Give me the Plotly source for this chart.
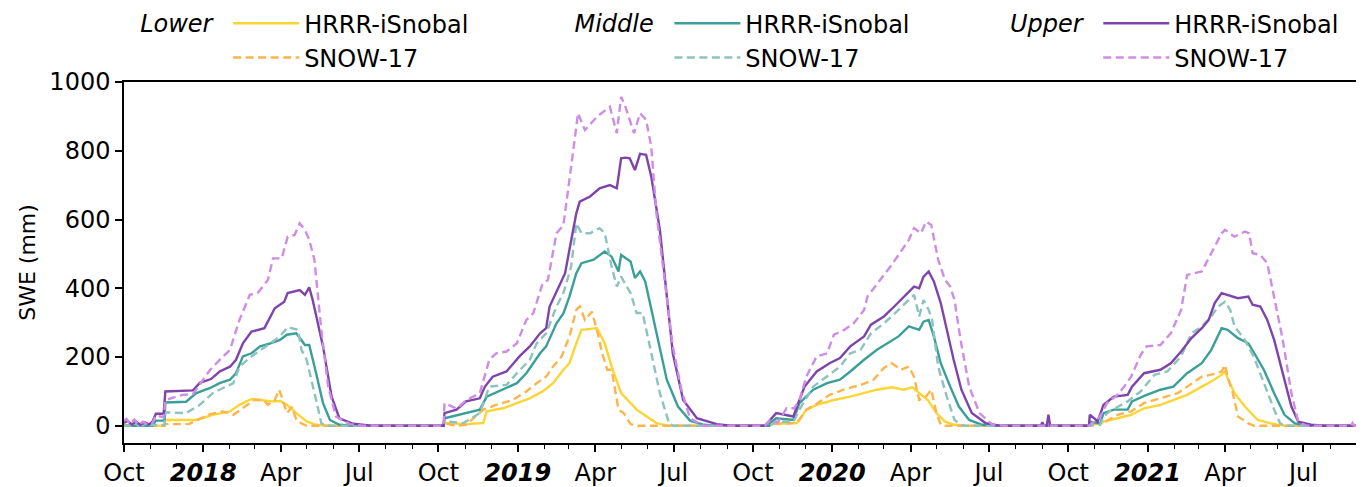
import plotly.graph_objects as go

# ---------------- data ----------------
lower_hrrr_dates = ["2017-10-01","2017-11-17","2017-11-18","2017-12-24","2018-01-12","2018-02-01","2018-02-12","2018-02-26","2018-03-08","2018-03-23","2018-03-31","2018-04-08","2018-04-19","2018-05-01","2018-05-12","2018-05-25",
    "2018-10-07","2018-10-08","2018-11-02","2018-11-22","2018-11-26","2018-12-15","2018-12-31","2019-01-15","2019-01-30","2019-02-11","2019-02-23","2019-03-02","2019-03-10","2019-03-16","2019-04-03","2019-04-06","2019-04-12","2019-04-20","2019-05-01","2019-05-19","2019-06-11","2019-06-25",
    "2019-10-20","2019-10-21","2019-11-21","2019-11-24","2019-12-02","2019-12-14","2020-01-03","2020-01-22","2020-02-07","2020-02-22","2020-03-10","2020-03-24","2020-04-03","2020-04-11","2020-04-21","2020-05-01","2020-05-11","2020-05-22","2020-06-05",
    "2020-10-25","2020-10-26","2020-11-07","2020-11-11","2020-11-27","2020-12-13","2020-12-28","2021-01-16","2021-01-31","2021-02-16","2021-03-05","2021-03-16","2021-03-28","2021-04-01","2021-04-04","2021-04-12","2021-04-24","2021-05-09","2021-05-24","2021-06-10","2021-08-31"]
lower_hrrr_swe = [0,0,17,17,32,42,61,78,75,71,72,61,37,13,3,0,
    0,8,5,8,42,51,66,80,100,124,163,182,240,279,284,269,240,172,95,47,8,0,
    0,5,8,17,47,61,75,85,95,105,112,105,112,95,75,37,12,3,0,
    0,5,5,12,22,32,51,61,75,90,114,129,148,158,138,95,56,17,7,0,0]

lower_snow17_dates = ["2017-10-01","2017-11-17","2017-11-18","2017-12-15","2018-01-09","2018-01-24","2018-02-05","2018-02-16","2018-03-01","2018-03-12","2018-03-17","2018-03-25","2018-03-30","2018-04-02","2018-04-08","2018-04-14","2018-04-19","2018-04-25","2018-05-01",
    "2018-10-07","2018-10-08","2018-10-20","2018-11-02","2018-11-22","2018-12-07","2018-12-26","2019-01-11","2019-01-23","2019-02-03","2019-02-11","2019-02-21","2019-03-02","2019-03-10","2019-03-14","2019-03-20","2019-03-28","2019-04-03","2019-04-09","2019-04-15","2019-04-20","2019-04-28","2019-05-04","2019-05-12","2019-05-18",
    "2019-10-20","2019-10-21","2019-11-21","2019-12-02","2019-12-14","2019-12-29","2020-01-14","2020-02-03","2020-02-18","2020-03-01","2020-03-10","2020-03-21","2020-03-30","2020-04-05","2020-04-11","2020-04-19","2020-04-25","2020-05-01","2020-05-06","2020-05-12",
    "2020-10-25","2020-10-26","2020-11-11","2020-11-15","2020-11-27","2020-12-13","2020-12-28","2021-01-16","2021-02-05","2021-02-16","2021-03-05","2021-03-20","2021-03-28","2021-04-01","2021-04-04","2021-04-10","2021-04-16","2021-04-28","2021-05-05","2021-08-31"]
lower_snow17_swe = [0,0,5,5,34,42,32,51,75,75,61,75,105,85,37,55,17,7,0,
    0,8,0,3,47,61,75,100,124,143,172,202,260,337,347,308,332,279,211,163,163,47,37,5,0,
    0,5,8,47,64,90,105,119,134,168,182,163,172,143,75,85,105,37,3,0,
    0,5,8,15,32,42,66,80,95,114,143,151,158,177,143,95,27,7,0,0]

middle_hrrr_dates = ["2017-10-01","2017-11-03","2017-11-07","2017-11-17","2017-11-18","2017-12-12","2017-12-24","2018-01-09","2018-01-20","2018-02-01","2018-02-08","2018-02-16","2018-02-26","2018-03-08","2018-03-20","2018-03-31","2018-04-08","2018-04-19","2018-04-29","2018-05-04","2018-05-12","2018-05-20","2018-05-28","2018-06-08","2018-06-25",
    "2018-10-07","2018-10-08","2018-11-02","2018-11-18","2018-11-26","2018-12-15","2018-12-31","2019-01-11","2019-01-27","2019-02-03","2019-02-15","2019-02-23","2019-03-02","2019-03-10","2019-03-16","2019-03-30","2019-04-12","2019-04-20","2019-04-28","2019-05-01","2019-05-12","2019-05-17","2019-05-23","2019-05-29","2019-06-06","2019-06-15","2019-06-23","2019-07-06","2019-07-20","2019-08-05","2019-08-20",
    "2019-10-20","2019-10-21","2019-10-28","2019-11-17","2019-11-24","2019-12-10","2019-12-26","2020-01-10","2020-01-22","2020-02-07","2020-02-22","2020-03-06","2020-03-18","2020-03-30","2020-04-11","2020-04-16","2020-04-22","2020-04-28","2020-05-06","2020-05-17","2020-05-27","2020-06-08","2020-06-23","2020-07-10",
    "2020-10-25","2020-10-26","2020-11-07","2020-11-11","2020-11-23","2020-12-09","2020-12-14","2020-12-31","2021-01-16","2021-01-31","2021-02-16","2021-03-05","2021-03-16","2021-03-28","2021-04-04","2021-04-16","2021-04-28","2021-05-05","2021-05-16","2021-05-28","2021-06-09","2021-06-21","2021-07-05","2021-08-31"]
middle_hrrr_swe = [0,0,15,15,68,70,95,110,124,134,153,202,211,231,240,250,265,269,235,235,153,66,17,3,0,
    0,22,37,47,85,105,124,153,211,231,298,327,376,444,473,483,507,492,449,497,478,430,449,420,328,231,134,56,15,3,0,
    0,8,22,17,66,105,124,134,158,192,221,240,260,289,279,303,308,260,182,114,56,17,3,0,
    0,12,7,37,47,47,71,90,105,114,153,182,221,284,279,255,240,211,163,95,32,7,0,0]

middle_snow17_dates = ["2017-10-01","2017-11-17","2017-11-18","2017-12-12","2017-12-28","2018-01-12","2018-01-24","2018-02-05","2018-02-12","2018-02-26","2018-03-20","2018-03-31","2018-04-09","2018-04-21","2018-04-25","2018-05-01","2018-05-12","2018-05-18","2018-05-22",
    "2018-10-07","2018-10-08","2018-10-30","2018-11-18","2018-11-29","2018-12-19","2018-12-31","2019-01-15","2019-01-23","2019-02-03","2019-02-15","2019-02-23","2019-03-04","2019-03-10","2019-03-16","2019-03-26","2019-04-06","2019-04-12","2019-04-20","2019-04-26","2019-05-01","2019-05-12","2019-05-19","2019-05-26","2019-06-03","2019-06-15","2019-06-26","2019-07-01",
    "2019-10-20","2019-10-28","2019-11-17","2019-11-24","2019-12-10","2019-12-26","2020-01-10","2020-01-22","2020-02-03","2020-02-15","2020-03-01","2020-03-18","2020-03-30","2020-04-05","2020-04-11","2020-04-16","2020-04-22","2020-04-26","2020-05-03","2020-05-13","2020-05-22","2020-05-29","2020-06-05",
    "2020-10-25","2020-11-07","2020-11-11","2020-11-18","2020-12-09","2020-12-24","2021-01-09","2021-01-24","2021-02-09","2021-02-21","2021-03-05","2021-03-16","2021-03-24","2021-04-01","2021-04-07","2021-04-12","2021-04-24","2021-05-05","2021-05-16","2021-05-28","2021-06-04","2021-06-10","2021-08-31"]
middle_snow17_swe = [0,3,39,37,61,95,110,124,172,202,240,260,287,279,221,192,75,8,0,
    0,13,8,37,114,119,153,192,240,269,347,386,463,589,560,560,575,560,463,405,434,386,328,328,231,95,5,0,
    0,12,12,47,114,143,172,211,221,269,298,337,366,381,318,366,337,308,172,85,17,3,0,
    0,3,27,42,71,100,148,158,202,269,289,318,347,361,337,289,250,197,124,47,7,0,0]

upper_hrrr_dates = ["2017-10-01","2017-10-05","2017-10-10","2017-10-15","2017-10-20","2017-10-25","2017-10-30","2017-11-03","2017-11-07","2017-11-16","2017-11-18","2017-12-20","2017-12-28","2018-01-10","2018-01-20","2018-02-01","2018-02-08","2018-02-16","2018-02-26","2018-03-13","2018-03-25","2018-04-05","2018-04-09","2018-04-23","2018-04-29","2018-05-04","2018-05-08","2018-05-20","2018-05-30","2018-06-08","2018-06-24","2018-07-15",
    "2018-10-07","2018-10-08","2018-10-22","2018-11-02","2018-11-18","2018-11-24","2018-12-03","2018-12-19","2019-01-03","2019-01-15","2019-01-27","2019-02-03","2019-02-07","2019-02-17","2019-02-25","2019-03-02","2019-03-10","2019-03-14","2019-03-26","2019-04-06","2019-04-18","2019-04-26","2019-05-01","2019-05-06","2019-05-11","2019-05-17","2019-05-23","2019-05-30","2019-06-05","2019-06-15","2019-06-23","2019-06-30","2019-07-12","2019-07-28","2019-08-20","2019-09-05",
    "2019-10-15","2019-10-21","2019-10-28","2019-11-17","2019-11-21","2019-11-30","2019-12-14","2019-12-29","2020-01-10","2020-01-22","2020-02-07","2020-02-15","2020-03-01","2020-03-13","2020-03-24","2020-04-05","2020-04-11","2020-04-16","2020-04-22","2020-04-28","2020-05-06","2020-05-14","2020-05-21","2020-05-30","2020-06-11","2020-06-27","2020-07-15","2020-08-30","2020-09-01","2020-09-03","2020-09-06","2020-09-08","2020-09-10",
    "2020-10-25","2020-10-26","2020-11-01","2020-11-04","2020-11-11","2020-11-23","2020-12-09","2020-12-14","2020-12-28","2021-01-16","2021-01-28","2021-02-09","2021-02-21","2021-03-05","2021-03-13","2021-03-20","2021-03-28","2021-04-04","2021-04-16","2021-04-28","2021-05-03","2021-05-12","2021-05-20","2021-05-28","2021-06-07","2021-06-17","2021-06-25","2021-07-10","2021-07-25","2021-08-31"]
upper_hrrr_swe = [8,15,4,12,3,10,4,12,35,35,100,103,125,136,158,172,192,240,274,284,342,361,386,395,381,403,366,231,85,22,6,0,
    0,37,47,71,80,114,143,158,202,231,269,284,347,400,444,512,618,652,667,691,700,691,778,780,778,744,791,788,725,570,376,211,75,22,5,0,
    0,17,37,27,56,114,158,182,197,231,260,294,318,347,376,405,400,434,449,420,357,269,192,105,37,8,0,0,10,0,0,32,0,
    0,32,20,12,61,85,90,114,153,163,182,216,255,284,308,357,386,381,371,376,352,347,308,250,153,56,12,3,0,0]

upper_snow17_dates = ["2017-10-01","2017-10-04","2017-10-08","2017-10-13","2017-10-18","2017-10-23","2017-10-28","2017-11-03","2017-11-07","2017-11-16","2017-11-18","2017-12-08","2017-12-20","2018-01-01","2018-01-09","2018-01-20","2018-02-01","2018-02-12","2018-02-24","2018-03-05","2018-03-17","2018-03-23","2018-04-02","2018-04-09","2018-04-17","2018-04-23","2018-04-29","2018-05-04","2018-05-10","2018-05-18","2018-05-26","2018-06-04","2018-06-20","2018-07-05",
    "2018-10-07","2018-10-08","2018-10-12","2018-10-22","2018-11-02","2018-11-18","2018-11-29","2018-12-07","2018-12-19","2018-12-31","2019-01-11","2019-01-19","2019-01-30","2019-02-05","2019-02-15","2019-02-23","2019-03-02","2019-03-10","2019-03-12","2019-03-20","2019-04-03","2019-04-18","2019-04-26","2019-05-01","2019-05-06","2019-05-16","2019-05-23","2019-05-30","2019-06-05","2019-06-11","2019-06-21","2019-06-30","2019-07-10","2019-07-20","2019-08-05",
    "2019-10-15","2019-10-21","2019-10-30","2019-11-09","2019-11-18","2019-11-24","2019-12-02","2019-12-14","2019-12-26","2020-01-03","2020-01-15","2020-01-26","2020-02-07","2020-02-11","2020-02-26","2020-03-10","2020-03-18","2020-03-30","2020-04-05","2020-04-13","2020-04-19","2020-04-25","2020-05-03","2020-05-11","2020-05-17","2020-05-22","2020-05-29","2020-06-08","2020-06-20","2020-07-05","2020-07-20",
    "2020-10-25","2020-11-07","2020-11-15","2020-11-27","2020-12-05","2020-12-13","2020-12-24","2020-12-31","2021-01-16","2021-01-28","2021-02-09","2021-02-16","2021-03-05","2021-03-16","2021-03-28","2021-04-01","2021-04-12","2021-04-24","2021-04-29","2021-05-03","2021-05-12","2021-05-20","2021-05-28","2021-06-07","2021-06-17","2021-06-25","2021-07-05","2021-08-25","2021-08-27","2021-08-29","2021-08-31"]
upper_snow17_swe = [15,20,5,18,2,12,3,8,30,25,75,90,92,134,163,192,221,308,381,386,424,487,487,550,555,589,570,541,483,279,114,27,5,0,
    0,66,62,50,74,95,192,211,216,240,308,327,415,424,560,584,715,870,909,860,899,928,851,957,928,851,909,890,812,618,405,231,105,22,0,
    0,17,10,51,51,75,143,202,211,265,279,298,337,376,424,468,497,541,575,560,594,584,483,424,405,366,250,114,37,3,0,
    0,27,66,90,114,143,206,231,235,269,337,439,449,502,560,570,550,565,560,502,497,473,376,250,95,12,0,0,8,0,0]

tick_dates = ["2017-10-01","2018-01-01","2018-04-01","2018-07-01","2018-10-01","2019-01-01","2019-04-01","2019-07-01",
              "2019-10-01","2020-01-01","2020-04-01","2020-07-01","2020-10-01","2021-01-01","2021-04-01","2021-07-01"]
tick_labels = ["Oct","<b><i>2018</i></b>","Apr","Jul","Oct","<b><i>2019</i></b>","Apr","Jul",
               "Oct","<b><i>2020</i></b>","Apr","Jul","Oct","<b><i>2021</i></b>","Apr","Jul"]

# ---------------- figure ----------------
FONT = "DejaVu Sans"
FS = 24
fig = go.Figure()

series = [
    (lower_hrrr_dates, lower_hrrr_swe, "HRRR-iSnobal", "#FCD535", "solid", "legend"),
    (lower_snow17_dates, lower_snow17_swe, "SNOW-17", "#FDB44B", "8px,4.5px", "legend"),
    (middle_hrrr_dates, middle_hrrr_swe, "HRRR-iSnobal", "#3A9F99", "solid", "legend2"),
    (middle_snow17_dates, middle_snow17_swe, "SNOW-17", "#8CC3BE", "8px,4.5px", "legend2"),
    (upper_hrrr_dates, upper_hrrr_swe, "HRRR-iSnobal", "#7E44AC", "solid", "legend3"),
    (upper_snow17_dates, upper_snow17_swe, "SNOW-17", "#CF8CE6", "8px,4.5px", "legend3"),
]
for i, (d, v, name, col, dash, leg) in enumerate(series):
    fig.add_trace(go.Scatter(x=d, y=v, mode="lines", name=name, legend=leg,
                             legendgroup="g%d" % i,
                             line=dict(color=col, width=2.4, dash=dash)))

def legend_cfg(title, x):
    return dict(title=dict(text="<i>" + title + "</i>&nbsp;", side="left",
                           font=dict(family=FONT, size=FS, color="black")),
                x=x, xanchor="left", y=1.224, yanchor="top",
                orientation="v", traceorder="normal", tracegroupgap=4,
                itemwidth=66,
                font=dict(family=FONT, size=FS, color="black"),
                bgcolor="rgba(0,0,0,0)", borderwidth=0)

# the page body adds an 8px offset, so the figure is 8px smaller than the window
fig.update_layout(
    width=1356, height=479,
    margin=dict(l=116, r=8, t=74, b=44, autoexpand=False),
    paper_bgcolor="white", plot_bgcolor="white",
    font=dict(family=FONT, size=FS, color="black"),
    showlegend=True,
    legend=legend_cfg("Lower", 0.0115),
    legend2=legend_cfg("Middle", 0.364),
    legend3=legend_cfg("Upper", 0.7175),
)
fig.update_xaxes(
    range=["2017-10-01", "2021-08-31"],
    tickmode="array", tickvals=tick_dates, ticktext=tick_labels,
    ticks="outside", ticklen=7, tickwidth=1.5, tickcolor="black",
    showline=True, linecolor="black", linewidth=1.5, mirror=True,
    showgrid=False, zeroline=False,
    tickfont=dict(family=FONT, size=FS, color="black"),
    minor=dict(ticks="outside", ticklen=4, tickwidth=1.2, tickcolor="black",
               dtick="M1", tick0="2017-10-01", showgrid=False),
)
fig.update_yaxes(
    range=[-50, 1000],
    tickvals=[0, 200, 400, 600, 800, 1000],
    ticks="outside", ticklen=7, tickwidth=1.5, tickcolor="black",
    showline=True, linecolor="black", linewidth=1.5, mirror=True,
    showgrid=False, zeroline=False,
    tickfont=dict(family=FONT, size=FS, color="black"),
    title=dict(text="SWE (mm)", font=dict(family=FONT, size=22, color="black"), standoff=8),
)
fig.write_html("out.html")
